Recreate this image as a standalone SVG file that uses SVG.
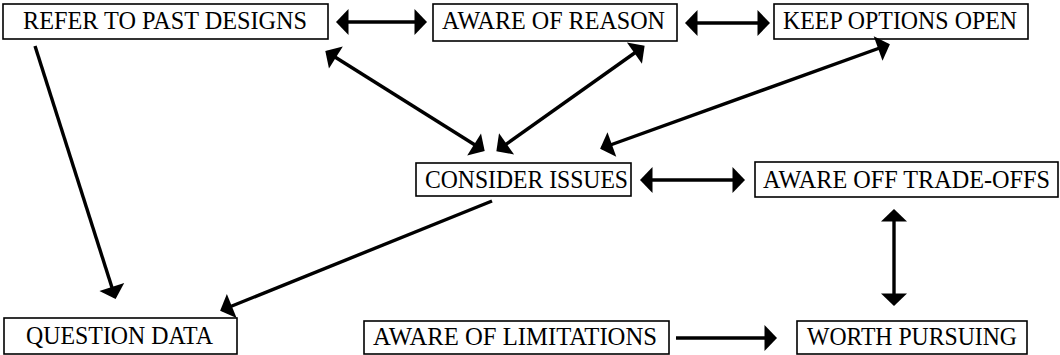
<svg xmlns="http://www.w3.org/2000/svg" width="1060" height="355" viewBox="0 0 1060 355">
<style>
.box{fill:#fff;stroke:#000;stroke-width:1.6}
.lbl{font-family:"Liberation Serif","Times New Roman",serif;font-size:25px;fill:#000}
.con{stroke:#000;stroke-width:3.4;fill:none}
</style>
<defs>
<marker id="ah" markerUnits="userSpaceOnUse" markerWidth="13" markerHeight="26" refX="10.5" refY="13" orient="auto-start-reverse" overflow="visible">
<path d="M0,0 L12.5,13 L0,26 Z" fill="#000"/>
</marker>
</defs>
<rect width="1060" height="355" fill="#fff"/>
<g id="n-refer"><rect class="box" x="3" y="4" width="325" height="35"/><text class="lbl" x="23" y="29" textLength="284" lengthAdjust="spacingAndGlyphs">REFER TO PAST DESIGNS</text></g>
<g id="n-reason"><rect class="box" x="433" y="4" width="244" height="37"/><text class="lbl" x="442" y="29" textLength="223" lengthAdjust="spacingAndGlyphs">AWARE OF REASON</text></g>
<g id="n-keep"><rect class="box" x="774" y="4" width="254" height="35"/><text class="lbl" x="783" y="29" textLength="234" lengthAdjust="spacingAndGlyphs">KEEP OPTIONS OPEN</text></g>
<g id="n-consider"><rect class="box" x="416" y="163" width="215" height="33"/><text class="lbl" x="425" y="188" textLength="203" lengthAdjust="spacingAndGlyphs">CONSIDER ISSUES</text></g>
<g id="n-tradeoffs"><rect class="box" x="755" y="162" width="303" height="35"/><text class="lbl" x="763" y="188" textLength="287" lengthAdjust="spacingAndGlyphs">AWARE OFF TRADE-OFFS</text></g>
<g id="n-question"><rect class="box" x="4" y="318" width="233" height="36"/><text class="lbl" x="26" y="344" textLength="187" lengthAdjust="spacingAndGlyphs">QUESTION DATA</text></g>
<g id="n-limitations"><rect class="box" x="364" y="321" width="305" height="33"/><text class="lbl" x="373" y="345" textLength="284" lengthAdjust="spacingAndGlyphs">AWARE OF LIMITATIONS</text></g>
<g id="n-worth"><rect class="box" x="797" y="321" width="230" height="33"/><text class="lbl" x="807" y="345" textLength="210" lengthAdjust="spacingAndGlyphs">WORTH PURSUING</text></g>
<g id="connectors">
<line class="con" x1="338" y1="22" x2="425" y2="22" marker-start="url(#ah)" marker-end="url(#ah)"/>
<line class="con" x1="687" y1="23" x2="768" y2="23" marker-start="url(#ah)" marker-end="url(#ah)"/>
<line class="con" x1="327" y1="52" x2="483" y2="150" marker-start="url(#ah)" marker-end="url(#ah)"/>
<line class="con" x1="643" y1="47" x2="498" y2="150" marker-start="url(#ah)" marker-end="url(#ah)"/>
<line class="con" x1="888" y1="45" x2="602" y2="148" marker-start="url(#ah)" marker-end="url(#ah)"/>
<line class="con" x1="642" y1="180" x2="743" y2="180" marker-start="url(#ah)" marker-end="url(#ah)"/>
<line class="con" x1="894" y1="211" x2="894" y2="304" marker-start="url(#ah)" marker-end="url(#ah)"/>
<line class="con" x1="676" y1="338" x2="775" y2="338" marker-end="url(#ah)"/>
<line class="con" x1="35" y1="46" x2="115" y2="297" marker-end="url(#ah)"/>
<line class="con" x1="492" y1="201" x2="222" y2="310" marker-end="url(#ah)"/>
</g>
</svg>
